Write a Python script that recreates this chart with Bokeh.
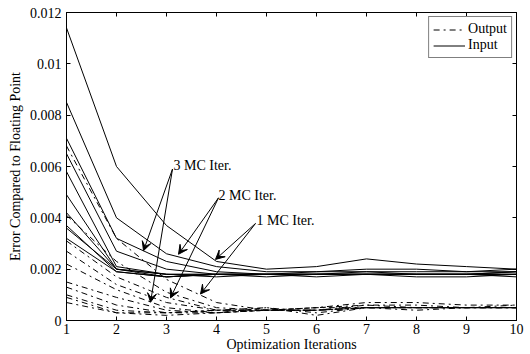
from bokeh.plotting import figure
from bokeh.models import (Range1d, LinearAxis, FixedTicker, Label, Arrow, VeeHead,
                          Legend, LegendItem)
from bokeh.embed import file_html
from bokeh.resources import INLINE

iterations = [1, 2, 3, 4, 5, 6, 7, 8, 9, 10]

input_series = [
    [0.0114, 0.0060, 0.0037, 0.0023, 0.0020, 0.0021, 0.0024, 0.0022, 0.0021, 0.0020],
    [0.0085, 0.0040, 0.0026, 0.0021, 0.0019, 0.0019, 0.0020, 0.0020, 0.0019, 0.0020],
    [0.0071, 0.0032, 0.0023, 0.0019, 0.0018, 0.0019, 0.0019, 0.0019, 0.0019, 0.0019],
    [0.0065, 0.0027, 0.0020, 0.0018, 0.0018, 0.0018, 0.0018, 0.0018, 0.0018, 0.0019],
    [0.0058, 0.0021, 0.0018, 0.0017, 0.0018, 0.0017, 0.0018, 0.0018, 0.0018, 0.0018],
    [0.0049, 0.0020, 0.0018, 0.0018, 0.0018, 0.0018, 0.0019, 0.0018, 0.0018, 0.0018],
    [0.0042, 0.0020, 0.0017, 0.0018, 0.0018, 0.0018, 0.0018, 0.0018, 0.0018, 0.0019],
    [0.0037, 0.0019, 0.0017, 0.0018, 0.0018, 0.0018, 0.0018, 0.0018, 0.0018, 0.0017],
    [0.0036, 0.0020, 0.0018, 0.0018, 0.0017, 0.0018, 0.0018, 0.0018, 0.0018, 0.0018],
    [0.0032, 0.0019, 0.0017, 0.0018, 0.0018, 0.0018, 0.0018, 0.0017, 0.0017, 0.0018],
]

output_series = [
    [0.0068, 0.0032, 0.0016, 0.0007, 0.0004, 0.0005, 0.0007, 0.0007, 0.0006, 0.0006],
    [0.0041, 0.0023, 0.0011, 0.0005, 0.0004, 0.0004, 0.0006, 0.0006, 0.0005, 0.0005],
    [0.0031, 0.0017, 0.0009, 0.0004, 0.0005, 0.0003, 0.0005, 0.0005, 0.0005, 0.0005],
    [0.0027, 0.0014, 0.0007, 0.0004, 0.0004, 0.0004, 0.0005, 0.0005, 0.0005, 0.0006],
    [0.0022, 0.0012, 0.0005, 0.0003, 0.0004, 0.0005, 0.0005, 0.0005, 0.0005, 0.0005],
    [0.0015, 0.0009, 0.0004, 0.0003, 0.0005, 0.0002, 0.0005, 0.0005, 0.0005, 0.0005],
    [0.0013, 0.0006, 0.0003, 0.0004, 0.0004, 0.0004, 0.0005, 0.0005, 0.0005, 0.0005],
    [0.0010, 0.0004, 0.0003, 0.0003, 0.0004, 0.0005, 0.0006, 0.0005, 0.0005, 0.0005],
    [0.0009, 0.0003, 0.0003, 0.0004, 0.0004, 0.0004, 0.0005, 0.0005, 0.0005, 0.0005],
    [0.0007, 0.0003, 0.0002, 0.0003, 0.0004, 0.0004, 0.0005, 0.0004, 0.0005, 0.0005],
]

x_ticks = [1, 2, 3, 4, 5, 6, 7, 8, 9, 10]
y_ticks = [0, 0.002, 0.004, 0.006, 0.008, 0.010, 0.012]
y_tick_labels = ["0", "0.002", "0.004", "0.006", "0.008", "0.01", "0.012"]

# annotations: text, text position, arrow start, arrow ends (solid, dash-dot)
ann_texts = ["3 MC Iter.", "2 MC Iter.", "1 MC Iter."]
ann_text_x = [3.14, 4.04, 4.80]
ann_text_y = [0.00604, 0.00487, 0.0039]
ann_start_x = [3.12, 4.04, 4.78]
ann_start_y = [0.0059, 0.00478, 0.00378]
ann_end_solid_x = [2.54, 3.24, 3.98]
ann_end_solid_y = [0.00272, 0.00258, 0.00238]
ann_end_dash_x = [2.68, 3.08, 3.68]
ann_end_dash_y = [0.00071, 0.00088, 0.00103]

FONT = "Liberation Serif"
FS = "14px"

p = figure(width=530, height=354, x_range=Range1d(1, 10), y_range=Range1d(0, 0.012),
           output_backend="svg", toolbar_location=None,
           min_border_left=66, min_border_right=14, min_border_top=12, min_border_bottom=34)
p.xgrid.visible = False
p.ygrid.visible = False
p.outline_line_color = "black"
p.outline_line_width = 1
p.background_fill_color = "white"

for ax in (p.xaxis[0], p.yaxis[0]):
    ax.major_tick_in = 4
    ax.major_tick_out = 0
    ax.minor_tick_in = 0
    ax.minor_tick_out = 0
    ax.axis_line_color = "black"
    ax.major_label_text_font = FONT
    ax.major_label_text_font_size = FS
    ax.major_label_text_color = "black"
    ax.axis_label_text_font = FONT
    ax.axis_label_text_font_size = FS
    ax.axis_label_text_font_style = "normal"
    ax.axis_label_text_color = "black"

p.xaxis[0].ticker = FixedTicker(ticks=x_ticks)
p.yaxis[0].ticker = FixedTicker(ticks=y_ticks)
p.yaxis[0].major_label_overrides = {t: l for t, l in zip(y_ticks, y_tick_labels)}
p.xaxis[0].axis_label = "Optimization Iterations"
p.yaxis[0].axis_label = "Error Compared to Floating Point"
p.xaxis[0].major_label_standoff = 3
p.xaxis[0].axis_label_standoff = 0
p.yaxis[0].major_label_standoff = 5
p.yaxis[0].axis_label_standoff = 4

for loc, ticks in (("above", x_ticks), ("right", y_ticks)):
    ax = LinearAxis(ticker=FixedTicker(ticks=ticks), major_tick_in=4, major_tick_out=0,
                    minor_tick_in=0, minor_tick_out=0,
                    major_label_overrides={t: "" for t in ticks},
                    major_label_standoff=0, axis_line_color="black")
    p.add_layout(ax, loc)

in_r = []
for ys in input_series:
    in_r.append(p.line(iterations, ys, line_color="black", line_width=1))
out_r = []
for ys in output_series:
    out_r.append(p.line(iterations, ys, line_color="black", line_width=1, line_dash="dashdot"))

for i in range(len(ann_texts)):
    p.add_layout(Label(x=ann_text_x[i], y=ann_text_y[i], text=ann_texts[i],
                       text_font=FONT, text_font_size=FS, text_baseline="alphabetic",
                       text_color="black"))
    for ex, ey in ((ann_end_solid_x[i], ann_end_solid_y[i]), (ann_end_dash_x[i], ann_end_dash_y[i])):
        p.add_layout(Arrow(end=VeeHead(size=9, fill_color="black", line_color="black", line_width=1),
                           x_start=ann_start_x[i], y_start=ann_start_y[i], x_end=ex, y_end=ey,
                           line_color="black", line_width=1))

legend = Legend(items=[LegendItem(label="Output", renderers=[out_r[0]]),
                       LegendItem(label="Input", renderers=[in_r[0]])],
                location="top_right", border_line_color="black", border_line_width=1,
                label_text_font=FONT, label_text_font_size=FS, label_text_color="black",
                padding=4, spacing=0, margin=4, label_height=13, glyph_height=13,
                glyph_width=32, label_standoff=3, background_fill_alpha=1)
p.add_layout(legend)

open("out.html", "w").write(file_html(p, INLINE))
